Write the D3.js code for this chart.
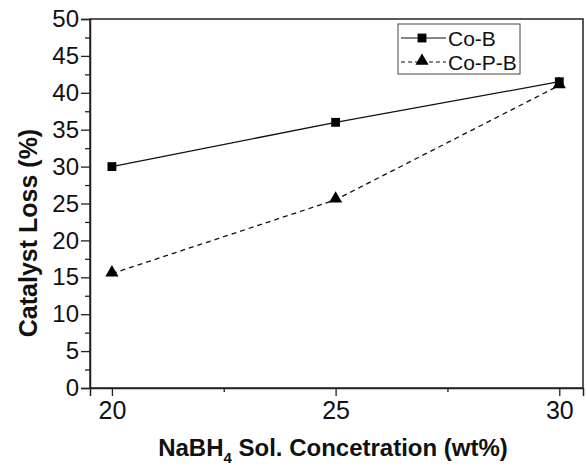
<!DOCTYPE html>
<html>
<head>
<meta charset="utf-8">
<script src="https://cdn.jsdelivr.net/npm/d3@7"></script>
<style>
  body { margin: 0; background: #fff; }
  svg { display: block; font-family: "Liberation Sans", Arial, sans-serif; }
</style>
</head>
<body>
<svg id="chart" width="587" height="466"></svg>
<script>
var concentrations = [20, 25, 30];
var coB = [30, 36, 41.5];
var coPB = [15.5, 25.5, 41];
var seriesNames = ["Co-B", "Co-P-B"];
var yTicks = [0, 5, 10, 15, 20, 25, 30, 35, 40, 45, 50];
var xTicks = [20, 25, 30];

var margin = {top: 19, right: 4, bottom: 77, left: 90},
    width = 587 - margin.left - margin.right,
    height = 466 - margin.top - margin.bottom;

var x = d3.scaleLinear().domain([19.51, 30.53]).range([0, width]);
var y = d3.scaleLinear().domain([0, 50]).range([height - 1, 0]);

var svg = d3.select("#chart")
    .append("g")
    .attr("transform", "translate(" + margin.left + "," + margin.top + ")");

// frame
svg.append("rect")
    .attr("x", 0).attr("y", 0)
    .attr("width", width).attr("height", height - 1)
    .attr("fill", "none")
    .attr("stroke", "#222")
    .attr("stroke-width", 1.5);

// y axis
var yAxis = d3.axisLeft(y).tickValues(yTicks).tickSize(9).tickPadding(2);
var gy = svg.append("g").call(yAxis);
gy.select(".domain").attr("stroke", "#222").attr("stroke-width", 1.5);
gy.selectAll(".tick line").attr("stroke", "#222").attr("stroke-width", 1.3);
gy.selectAll(".tick text").attr("font-size", 24).attr("fill", "#111")
    .attr("font-family", "Liberation Sans, Arial, sans-serif");

var gyMinor = svg.append("g").call(d3.axisLeft(y)
    .tickValues(d3.range(2.5, 50, 5)).tickSize(5).tickFormat(""));
gyMinor.select(".domain").remove();
gyMinor.selectAll(".tick line").attr("stroke", "#222").attr("stroke-width", 1.3);

// x axis
var xAxis = d3.axisBottom(x).tickValues(xTicks).tickSize(8).tickPadding(5);
var gx = svg.append("g").attr("transform", "translate(0," + (height - 1) + ")").call(xAxis);
gx.select(".domain").attr("stroke", "#222").attr("stroke-width", 1.5);
gx.selectAll(".tick line").attr("stroke", "#222").attr("stroke-width", 1.3);
gx.selectAll(".tick text").attr("font-size", 25).attr("fill", "#111")
    .attr("font-family", "Liberation Sans, Arial, sans-serif");

var gxMinor = svg.append("g").attr("transform", "translate(0," + (height - 1) + ")")
    .call(d3.axisBottom(x).tickValues([22.5, 27.5]).tickSize(4).tickFormat(""));
gxMinor.select(".domain").remove();
gxMinor.selectAll(".tick line").attr("stroke", "#222").attr("stroke-width", 1.3);

// lines
var line = d3.line()
    .x(function(d, i) { return x(concentrations[i]); })
    .y(function(d) { return y(d); });

svg.append("path").datum(coPB)
    .attr("d", line).attr("fill", "none")
    .attr("stroke", "#111").attr("stroke-width", 1.3)
    .attr("stroke-dasharray", "5,4");

svg.append("path").datum(coB)
    .attr("d", line).attr("fill", "none")
    .attr("stroke", "#111").attr("stroke-width", 1.3);

var square = d3.symbol().type(d3.symbolSquare).size(78);
var triangle = d3.symbol().type(d3.symbolTriangle).size(75);

svg.selectAll(".tri").data(coPB).enter().append("path")
    .attr("class", "tri")
    .attr("d", triangle)
    .attr("transform", function(d, i) { return "translate(" + x(concentrations[i]) + "," + (y(d) - 1) + ")"; })
    .attr("fill", "#000");

svg.selectAll(".sq").data(coB).enter().append("path")
    .attr("class", "sq")
    .attr("d", square)
    .attr("transform", function(d, i) { return "translate(" + x(concentrations[i]) + "," + y(d) + ")"; })
    .attr("fill", "#000");

// legend
var legend = svg.append("g").attr("transform", "translate(" + (398 - margin.left) + "," + (24 - margin.top) + ")");
legend.append("rect")
    .attr("width", 122).attr("height", 50)
    .attr("fill", "#fff").attr("stroke", "#444").attr("stroke-width", 1);

seriesNames.forEach(function(name, i) {
    var row = legend.append("g").attr("transform", "translate(0," + (14 + i * 24) + ")");
    row.append("line")
        .attr("x1", 3).attr("x2", 48)
        .attr("stroke", "#111").attr("stroke-width", 1.1)
        .attr("stroke-dasharray", i === 1 ? "4,3" : null);
    row.append("path")
        .attr("d", i === 0 ? square : triangle)
        .attr("transform", "translate(24," + (i === 1 ? -1 : 0) + ")")
        .attr("fill", "#000");
    row.append("text")
        .attr("x", 50).attr("dy", "0.36em")
        .attr("font-size", 21).attr("fill", "#111")
        .text(name);
});

// axis titles
svg.append("text")
    .attr("transform", "translate(" + (37 - margin.left) + "," + (233 - margin.top) + ") rotate(-90)")
    .attr("text-anchor", "middle")
    .attr("font-size", 25).attr("font-weight", "bold").attr("fill", "#111")
    .text("Catalyst Loss (%)");

var xt = svg.append("text")
    .attr("x", 333 - margin.left)
    .attr("y", 456 - margin.top)
    .attr("text-anchor", "middle")
    .attr("font-size", 24).attr("font-weight", "bold").attr("fill", "#111");
xt.append("tspan").text("NaBH");
xt.append("tspan").attr("font-size", 15).attr("dy", 7).text("4");
xt.append("tspan").attr("dy", -7).text(" Sol. Concetration (wt%)");
</script>
</body>
</html>
